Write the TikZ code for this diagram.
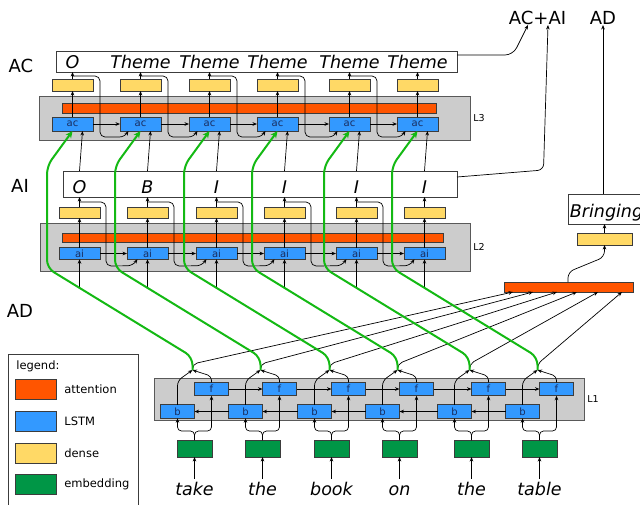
\documentclass[tikz,border=0pt]{standalone}
\usepackage{fontspec}
\setmainfont{DejaVu Sans}
\usetikzlibrary{arrows.meta,calc}

\definecolor{attnorange}{RGB}{255,85,0}
\definecolor{lstmblue}{RGB}{51,153,255}
\definecolor{denseyellow}{RGB}{255,217,102}
\definecolor{embedgreen}{RGB}{0,150,70}
\definecolor{layergray}{RGB}{204,204,204}
\definecolor{skipgreen}{RGB}{20,185,20}
\definecolor{edgegray}{RGB}{60,60,60}
\definecolor{celltext}{RGB}{25,45,95}

\tikzset{
    cell/.style={draw=edgegray, line width=0.8pt, inner sep=0pt, outer sep=0pt},
    layerbox/.style={cell, fill=layergray, draw=black!65},
    attnbar/.style={cell, fill=attnorange},
    lstmcell/.style={cell, fill=lstmblue, minimum width=41pt, text=celltext, font=\fontsize{10}{10}\selectfont},
    bicell/.style={lstmcell, minimum width=34pt, minimum height=13.5pt},
    densecell/.style={cell, fill=denseyellow, minimum width=41pt},
    embedcell/.style={cell, fill=embedgreen, minimum width=35pt, minimum height=17pt},
    outbox/.style={cell, fill=white},
    outtxt/.style={anchor=base, inner sep=0pt, font=\fontsize{17.5}{18}\selectfont\itshape},
    wordtxt/.style={anchor=base, inner sep=3pt, text height=13pt, text depth=4pt, font=\fontsize{17.5}{18}\selectfont\itshape},
    tagtxt/.style={anchor=base, inner sep=0pt, font=\fontsize{18}{18}\selectfont},
    layertxt/.style={anchor=west, inner sep=3pt, font=\fontsize{9.5}{10}\selectfont},
    legendtxt/.style={anchor=west, inner sep=0pt, font=\fontsize{11.5}{12}\selectfont},
    skipline/.style={skipgreen, line width=2pt, -{Stealth[length=7pt,width=6.5pt]}},
}

\begin{document}
\begin{tikzpicture}[x=1pt, y=-1pt, line width=0.7pt, >={Stealth[length=4.5pt,width=3.6pt]}]
    \clip (0,0) rectangle (640,504);

    % layers
    \node[layerbox, minimum width=431pt, minimum height=44pt] (L3) at (254.5,118) {};
    \node[layerbox, minimum width=430pt, minimum height=48pt] (L2) at (255,247) {};
    \node[layerbox, minimum width=430pt, minimum height=42pt] (L1) at (369,399) {};
    \node[layertxt] (L3tag) at (L3.east) {L3};
    \node[layertxt] (L2tag) at (L2.east) {L2};
    \node[layertxt] (L1tag) at (L1.east) {L1};

    \node[attnbar, minimum width=374pt, minimum height=10pt] (att3) at (249,108) {};
    \node[attnbar, minimum width=381pt, minimum height=9pt] (att2) at (252.5,237.5) {};
    \node[attnbar, minimum width=129pt, minimum height=10pt] (attAD) at (568.5,287) {};

    \node[outbox, minimum width=401pt, minimum height=21pt] (acout) at (256.5,61.5) {};
    \node[outbox, minimum width=394pt, minimum height=26pt] (aiout) at (260,184) {};

    \node[densecell, minimum width=55pt, minimum height=12pt] (dAD) at (604.5,239) {};
    \node[outbox, minimum width=76pt, minimum height=30pt] (bring) at (606,209) {};
    \node[outtxt, anchor=base west] (bringtxt) at (569.5,217) {Bringing};

    \node[tagtxt] (lblAC) at (21,72) {AC};
    \node[tagtxt] (lblAI) at (20,192) {AI};
    \node[tagtxt] (lblAD) at (20,317) {AD};
    \node[tagtxt] (lblACAI) at (537.5,24) {AC+AI};
    \node[tagtxt] (lblADtop) at (603,24) {AD};

    \foreach \i/\dx/\acl/\ail/\w in {1/0/O/O/take, 2/68/Theme/B/the, 3/137/Theme/I/book,
        4/205/Theme/I/on, 5/277/Theme/I/the, 6/345/Theme/I/table}
    {
        \node[lstmcell, minimum height=14pt] (ac\i) at (72.5+\dx,124) {ac};
        \node[densecell, minimum height=12pt] (d3\i) at (72.5+\dx,85) {};
        \node[outtxt] (acl\i) at (72.5+\dx,68) {\acl};
        \node[lstmcell, minimum height=11.5pt] (ai\i) at (79.5+\dx,253.5) {ai};
        \node[densecell, minimum height=11pt] (d2\i) at (79.5+\dx,212.5) {};
        \node[outtxt] (ail\i) at (79.5+\dx,193) {\ail};
        \node[bicell] (f\i) at (211.5+\dx,389) {f};
        \node[bicell] (b\i) at (177.5+\dx,411.5) {b};
        \node[embedcell] (e\i) at (194.5+\dx,448.5) {};
        \node[wordtxt] (w\i) at (194.5+\dx,495) {\w};
        \coordinate (m\i) at (192.5+\dx,370);
        \coordinate (g1\i) at (47+\dx,268);
        \coordinate (g2\i) at (192.5+\dx,357);
    }

    \foreach \i in {1,...,6}
    {
        \draw[->] (ac\i.north) -- (d3\i.south);
        \draw[->] (d3\i.north) -- (d3\i.north |- acout.south);
        \draw[->] (ai\i.north) -- (d2\i.south);
        \draw[->] (d2\i.north) -- (d2\i.north |- aiout.south);
        \draw[->] (ai\i.north |- aiout.north) -- ($(ac\i.south)+(10,0)$);
        \draw[->] (w\i.north) -- (e\i.south);
        \draw[->, rounded corners=4pt] (e\i.north) -- ++(0,-9) -| (b\i.south);
        \draw[->, rounded corners=4pt] (e\i.north) -- ++(0,-9) -| (f\i.south);
        \draw[->, rounded corners=5pt] (b\i.north) -- ++(0,-24) -- (m\i);
        \draw[->, rounded corners=4pt] (f\i.north) -- ++(0,-6) -- (m\i);
    }

    \foreach \i/\j in {1/2,2/3,3/4,4/5,5/6}
    {
        \draw[->] (ac\i.east) -- (ac\j.west);
        \draw[->] (ai\i.east) -- (ai\j.west);
        \draw[->] (f\i.east) -- (f\j.west);
        \draw[->] (b\j.west) -- (b\i.east);
        % previous label goes to the next cell
        \draw[->, rounded corners=5pt] ($(d3\i.north)+(0,-3)$) -- ++(27.5,0) -- ++(0,61)
            -- ($(ac\j.south)+(-16,6)$) -- ($(ac\j.south)+(-12,0)$);
        \draw[->, rounded corners=5pt] ($(d2\i.north)+(0,-5)$) -- ++(26.5,0) -- ++(0,64)
            -- ($(ai\j.south)+(-15,6.5)$) -- ($(ai\j.south)+(-10,0)$);
    }

    % encoder outputs
    \foreach \i/\tx in {1/9,2/29,3/53,4/73,5/94,6/118}
    {
        \draw[->] ($(g1\i)!0.223!(g2\i)$) -- (ai\i.south);
        \draw[->, rounded corners=5pt] (m\i) -- ++(0,-6) -- ($(attAD.south west)+(\tx,0)$);
    }
    \foreach \i/\dx in {1/0,2/68,3/137,4/205,5/277,6/345}
    {
        \draw[skipline, rounded corners=8pt] (m\i) -- (g2\i) -- (g1\i) -- (47+\dx,166) -- (ac\i.south);
    }

    \draw[->, rounded corners=6pt] ($(attAD.north west)+(64,0)$) -- ++(0,-10)
        -- ($(dAD.south)+(0,12)$) -- (dAD.south);
    \draw[->] (dAD.north) -- (dAD.north |- bring.south);
    \draw[->] (lblADtop.base |- bring.north) -- ($(lblADtop.base)+(0,1)$);
    \draw[->, rounded corners=8pt] ($(acout.north east)+(0,4)$) -- ++(56,0) -- ($(lblACAI.base)+(-9.5,1)$);
    \draw[->, rounded corners=6pt] ($(aiout.east)+(0,-7)$) -- ($(lblACAI.base)+(6,146)$)
        -- ($(lblACAI.base)+(10.5,1)$);

    % legend
    \node[cell, fill=white, minimum width=130pt, minimum height=160pt, anchor=north west] (legend) at (8,354) {};
    \node[legendtxt] (legtitle) at (16,366) {legend:};
    \foreach \k/\col/\s/\y in {1/attnorange/attention/389, 2/lstmblue/LSTM/421,
        3/denseyellow/dense/453, 4/embedgreen/embedding/484}
    {
        \node[cell, fill=\col, minimum width=41pt, minimum height=20pt] (sw\k) at (35.5,\y) {};
        \node[legendtxt] (sl\k) at (64,\y) {\s};
    }
\end{tikzpicture}
\end{document}
